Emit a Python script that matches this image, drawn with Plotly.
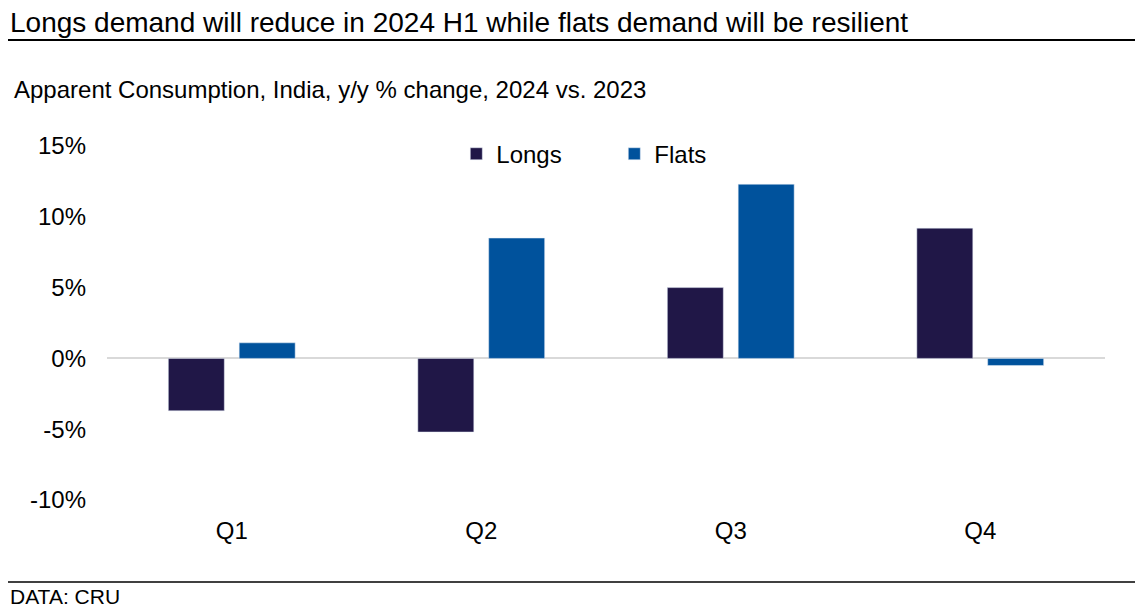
import plotly.graph_objects as go

quarters = ['Q1', 'Q2', 'Q3', 'Q4']
longs = [-3.7, -5.2, 5.0, 9.2]
flats = [1.1, 8.5, 12.3, -0.5]

tick_vals = [-10, -5, 0, 5, 10, 15]
tick_text = ['-10%', '-5%', '0%', '5%', '10%', '15%']

FONT = 'Liberation Sans, Arial, sans-serif'

# page body has an 8px margin, so the figure is drawn 8px smaller and offset
fig = go.Figure()
fig.add_trace(go.Bar(x=quarters, y=longs, name='Longs', marker_color='#201747'))
fig.add_trace(go.Bar(x=quarters, y=flats, name='Flats', marker_color='#00529c'))

fig.update_layout(
    width=1135, height=604,
    margin=dict(l=99, r=38, t=138, b=112),
    paper_bgcolor='white', plot_bgcolor='white',
    font=dict(family=FONT, size=24, color='black'),
    bargap=0.432, bargroupgap=0.21,
    legend=dict(orientation='h', x=0.35, y=0.977, xanchor='left', yanchor='middle',
                font=dict(size=24), entrywidth=113, bgcolor='rgba(0,0,0,0)'),
    showlegend=True,
)
fig.update_xaxes(showgrid=False, showline=False, ticks='', ticklabelstandoff=14)
fig.update_yaxes(range=[-10, 15], tickvals=tick_vals, ticktext=tick_text, showgrid=False,
                 zeroline=True, zerolinecolor='#d9d9d9', zerolinewidth=2,
                 showline=False, ticks='', ticklabelstandoff=20)

# header / footer text
fig.add_annotation(text='Longs demand will reduce in 2024 H1 while flats demand will be resilient',
                   xref='paper', yref='paper', x=-0.0992, y=1.350, xanchor='left', yanchor='middle',
                   showarrow=False, font=dict(size=28))
fig.add_annotation(text='Apparent Consumption, India, y/y % change, 2024 vs. 2023',
                   xref='paper', yref='paper', x=-0.0952, y=1.161, xanchor='left', yanchor='middle',
                   showarrow=False, font=dict(size=24))
fig.add_annotation(text='DATA: CRU',
                   xref='paper', yref='paper', x=-0.0992, y=-0.274, xanchor='left', yanchor='middle',
                   showarrow=False, font=dict(size=21))

# rule lines
fig.add_shape(type='line', xref='paper', yref='paper', x0=-0.1, x1=1.04, y0=1.2994, y1=1.2994,
              line=dict(color='black', width=2))
fig.add_shape(type='line', xref='paper', yref='paper', x0=-0.1, x1=1.04, y0=-0.2316, y1=-0.2316,
              line=dict(color='black', width=1.5))

fig.write_html('out.html')
